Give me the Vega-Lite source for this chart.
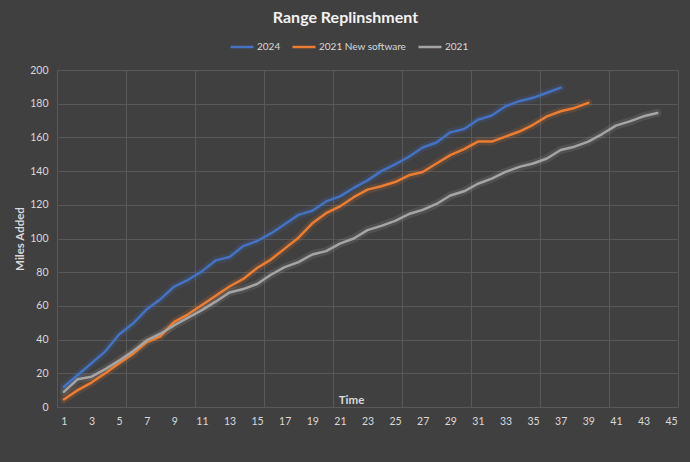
{
  "$schema": "https://vega.github.io/schema/vega-lite/v6.json",
  "width": 621,
  "height": 337,
  "autosize": {"type": "none"},
  "padding": {"left": 57, "top": 70, "right": 12, "bottom": 55},
  "background": "#404040",
  "title": {
    "text": "Range Replinshment",
    "font": "Lato",
    "fontSize": 16,
    "fontWeight": "bold",
    "color": "#F2F2F2",
    "anchor": "middle",
    "dx": -22,
    "offset": 8
  },
  "config": {
    "view": {"stroke": null},
    "font": "Lato",
    "axis": {
      "labelFont": "Lato",
      "labelFontSize": 10.5,
      "labelColor": "#D9D9D9",
      "titleColor": "#D9D9D9",
      "titleFont": "Lato",
      "titleFontWeight": "bold",
      "titleFontSize": 11.5,
      "gridColor": "#595959",
      "gridWidth": 1,
      "domain": false,
      "ticks": false
    },
    "legend": {
      "labelFont": "Lato",
      "labelFontSize": 10,
      "labelColor": "#D9D9D9"
    }
  },
  "data": {
    "values": [
      {"t": 1, "2024": 12, "2021 New software": 4.5, "2021": 9},
      {"t": 2, "2024": 19, "2021 New software": 10, "2021": 16.5},
      {"t": 3, "2024": 26, "2021 New software": 14.5, "2021": 18},
      {"t": 4, "2024": 33, "2021 New software": 20, "2021": 22.5},
      {"t": 5, "2024": 43, "2021 New software": 26, "2021": 27.5},
      {"t": 6, "2024": 49.5, "2021 New software": 31.5, "2021": 33},
      {"t": 7, "2024": 58, "2021 New software": 38.5, "2021": 39.5},
      {"t": 8, "2024": 64, "2021 New software": 42, "2021": 43.5},
      {"t": 9, "2024": 71.5, "2021 New software": 50.5, "2021": 48.5},
      {"t": 10, "2024": 75.5, "2021 New software": 55, "2021": 53},
      {"t": 11, "2024": 80.5, "2021 New software": 60.5, "2021": 57.5},
      {"t": 12, "2024": 87, "2021 New software": 66, "2021": 62.5},
      {"t": 13, "2024": 89, "2021 New software": 71.5, "2021": 68},
      {"t": 14, "2024": 95.5, "2021 New software": 76, "2021": 70},
      {"t": 15, "2024": 98.5, "2021 New software": 82.5, "2021": 73},
      {"t": 16, "2024": 103, "2021 New software": 87.5, "2021": 78.5},
      {"t": 17, "2024": 108.5, "2021 New software": 94, "2021": 83},
      {"t": 18, "2024": 114, "2021 New software": 100.5, "2021": 86},
      {"t": 19, "2024": 116.5, "2021 New software": 109, "2021": 90.5},
      {"t": 20, "2024": 122, "2021 New software": 115, "2021": 92.5},
      {"t": 21, "2024": 125, "2021 New software": 119, "2021": 97},
      {"t": 22, "2024": 130, "2021 New software": 124.5, "2021": 100},
      {"t": 23, "2024": 134.5, "2021 New software": 129, "2021": 105},
      {"t": 24, "2024": 140, "2021 New software": 131, "2021": 107.5},
      {"t": 25, "2024": 144, "2021 New software": 133.5, "2021": 110.5},
      {"t": 26, "2024": 148.5, "2021 New software": 137.5, "2021": 114.5},
      {"t": 27, "2024": 154, "2021 New software": 139.5, "2021": 117},
      {"t": 28, "2024": 157, "2021 New software": 144.5, "2021": 120.5},
      {"t": 29, "2024": 163, "2021 New software": 149.5, "2021": 125.5},
      {"t": 30, "2024": 165, "2021 New software": 153, "2021": 128},
      {"t": 31, "2024": 170.5, "2021 New software": 157.5, "2021": 132.5},
      {"t": 32, "2024": 173, "2021 New software": 157.5, "2021": 135.5},
      {"t": 33, "2024": 178.5, "2021 New software": 160.5, "2021": 139.5},
      {"t": 34, "2024": 181.5, "2021 New software": 163.5, "2021": 142.5},
      {"t": 35, "2024": 183.5, "2021 New software": 167.5, "2021": 144.5},
      {"t": 36, "2024": 186.5, "2021 New software": 172.5, "2021": 147.5},
      {"t": 37, "2024": 189.5, "2021 New software": 175.5, "2021": 152.5},
      {"t": 38, "2021 New software": 177.5, "2021": 154.5},
      {"t": 39, "2021 New software": 180.5, "2021": 157.5},
      {"t": 40, "2021": 162},
      {"t": 41, "2021": 167},
      {"t": 42, "2021": 169.5},
      {"t": 43, "2021": 172.5},
      {"t": 44, "2021": 174.5}
    ]
  },
  "transform": [
    {"fold": ["2024", "2021 New software", "2021"], "as": ["series", "miles"]},
    {"filter": "isValid(datum.miles)"}
  ],
  "encoding": {
    "y": {
      "field": "miles",
      "type": "quantitative",
      "scale": {"domain": [0, 200], "nice": false},
      "axis": {
        "values": [0, 20, 40, 60, 80, 100, 120, 140, 160, 180, 200],
        "labelPadding": 9,
        "title": "Miles Added",
        "titleX": -37,
        "titleY": 168.5,
        "titleAngle": -90,
        "titleAlign": "center",
        "titleBaseline": "middle"
      }
    },
    "color": {
      "field": "series",
      "type": "nominal",
      "scale": {
        "domain": ["2024", "2021 New software", "2021"],
        "range": ["#4472C4", "#ED7D31", "#A5A5A5"]
      },
      "legend": {
        "title": null,
        "orient": "none",
        "direction": "horizontal",
        "legendX": 172,
        "legendY": -36,
        "symbolType": "stroke",
        "symbolSize": 529,
        "symbolStrokeWidth": 2.5,
        "symbolOpacity": 1,
        "labelOffset": 2,
        "columnPadding": 6
      }
    },
    "detail": {"field": "series"}
  },
  "layer": [
    {
      "mark": {"type": "line", "strokeWidth": 8, "opacity": 0.16, "strokeCap": "round", "strokeJoin": "round"},
      "encoding": {
        "x": {
          "field": "t",
          "type": "quantitative",
          "scale": {"domain": [0.5, 45.5], "nice": false, "zero": false},
          "axis": {
            "orient": "bottom",
            "values": [0.5, 5.5, 10.5, 15.5, 20.5, 25.5, 30.5, 35.5, 40.5, 45.5],
            "labels": false,
            "grid": true,
            "title": null
          }
        }
      }
    },
    {
      "mark": {"type": "line", "strokeWidth": 2.5, "strokeCap": "round", "strokeJoin": "round"},
      "encoding": {
        "x": {
          "field": "t",
          "type": "quantitative",
          "axis": {
            "orient": "bottom",
            "values": [1, 3, 5, 7, 9, 11, 13, 15, 17, 19, 21, 23, 25, 27, 29, 31, 33, 35, 37, 39, 41, 43, 45],
            "grid": false,
            "labelPadding": 9,
            "labelColor": "#D9D9D9",
            "title": "Time",
            "titleX": 294,
            "titleY": -7,
            "titleBaseline": "middle",
            "titleAlign": "center"
          }
        }
      }
    }
  ],
  "resolve": {"axis": {"x": "independent"}}
}
